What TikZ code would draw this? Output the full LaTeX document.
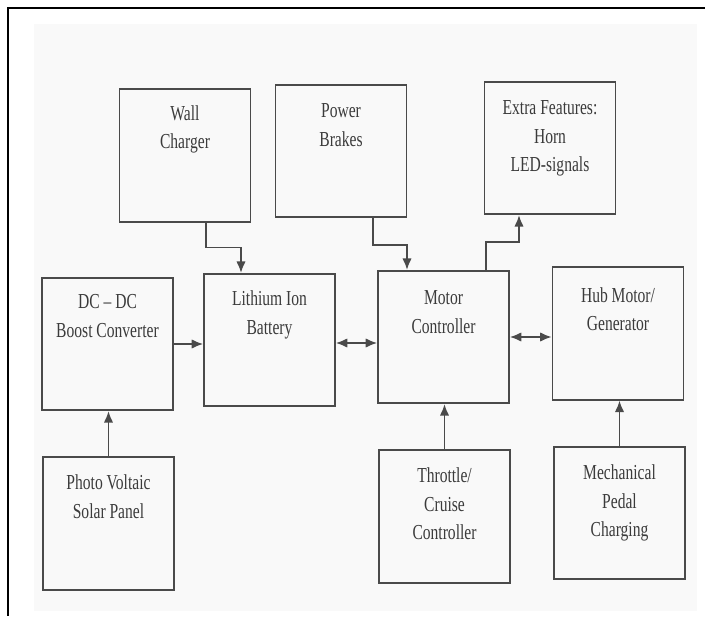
\documentclass[tikz,border=0pt]{standalone}
\usepackage{fontspec}
\newfontfamily\scanfont{Liberation Serif}[FakeStretch=0.73]
\usepackage{xcolor}
\usetikzlibrary{arrows.meta,positioning,calc}
\definecolor{ink}{HTML}{4A4A4A}
\definecolor{paper}{HTML}{F9F9F9}

\begin{document}
\begin{tikzpicture}[
    x=0.75pt, y=-0.75pt,
    box/.style={rectangle, draw=ink, line width=1.4pt, minimum width=98.25pt, minimum height=99.4pt, inner sep=0pt},
    txt/.style={align=center, inner sep=0pt, text=ink!80!black, font=\scanfont\fontsize{16}{21.5}\selectfont},
    arrow/.style={->, draw=ink, line width=1.1pt, >={Latex[length=8.5pt,width=7pt]}},
    darrow/.style={<->, draw=ink, line width=1.1pt, >={Latex[length=8.5pt,width=7pt]}}
]
    \useasboundingbox (0,0) rectangle (705,616);
    \fill[paper] (34,24) rectangle (697,611);
    \draw[black, line width=1.6pt] (705,8) -- (8,8) -- (8,616);

    % upper row
    \node[box] (wall) at (185,155.5) {};
    \node[box] (power) at (341,151) {};
    \node[box] (extra) at (550,148) {};
    % middle row
    \node[box] (dcdc) at (107.5,344) {};
    \node[box] (lib) at (269.5,340) {};
    \node[box] (motor) at (443.5,337) {};
    \node[box] (hub) at (618,333.5) {};
    % lower row
    \node[box] (photo) at (108.5,523.5) {};
    \node[box] (throttle) at (444.5,516.5) {};
    \node[box] (mech) at (619.5,513) {};

    \node[txt, below=12.5pt of wall.north] (wallT) {Wall\\Charger};
    \node[txt, below=14.5pt of power.north] (powerT) {Power\\Brakes};
    \node[txt, below=14.5pt of extra.north] (extraT) {Extra Features:\\Horn\\LED-signals};
    \node[txt, below=13pt of dcdc.north] (dcdcT) {DC – DC\\Boost Converter};
    \node[txt, below=13.5pt of lib.north] (libT) {Lithium Ion\\Battery};
    \node[txt, below=15.5pt of motor.north] (motorT) {Motor\\Controller};
    \node[txt, below=15.5pt of hub.north] (hubT) {Hub Motor/\\Generator};
    \node[txt, below=13.5pt of photo.north] (photoT) {Photo Voltaic\\Solar Panel};
    \node[txt, below=13.5pt of throttle.north] (throttleT) {Throttle/\\Cruise\\Controller};
    \node[txt, below=14pt of mech.north] (mechT) {Mechanical\\Pedal\\Charging};

    \draw[arrow] ($(wall.south)+(21,0)$) -- ++(0,25) -| ($(lib.north)+(-28.5,0)$);
    \draw[arrow] ($(power.south)+(32,0)$) -- ++(0,27) -| ($(motor.north)+(-36.5,0)$);
    \draw[arrow] ($(motor.north)+(42.5,0)$) -- ++(0,-28) -| ($(extra.south)+(-31,0)$);
    \draw[arrow] (dcdc.east) -- (dcdc.east -| lib.west);
    \draw[darrow] ($(lib.east)+(0,3)$) -- ($(motor.west)+(0,6)$);
    \draw[darrow] (motor.east) -- (motor.east -| hub.west);
    \draw[arrow] (photo.north) -- (photo.north |- dcdc.south);
    \draw[arrow] (throttle.north) -- (throttle.north |- motor.south);
    \draw[arrow] (mech.north) -- (mech.north |- hub.south);
\end{tikzpicture}
\end{document}
